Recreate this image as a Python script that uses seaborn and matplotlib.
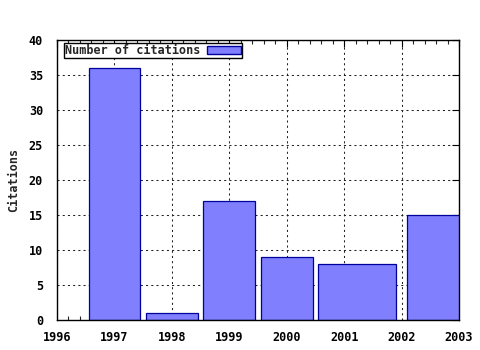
import numpy as np
import pandas as pd
import matplotlib
matplotlib.use("Agg")
import matplotlib.pyplot as plt
import seaborn as sns
from matplotlib.ticker import MultipleLocator
from matplotlib.patches import Patch

years = [1997, 1998, 1999, 2000, 2001, 2003]
citations = [36, 1, 17, 9, 8, 15]
series_name = "Number of citations"
x_ticks = [1996, 1997, 1998, 1999, 2000, 2001, 2002, 2003]
y_ticks = [0, 5, 10, 15, 20, 25, 30, 35, 40]

sns.set_style("white")
plt.rcParams['font.family'] = ['DejaVu Sans Mono']
plt.rcParams['font.weight'] = 'bold'

df = pd.DataFrame({"year": years, "citations": citations})

# gnuplot-style box widths: 0.9 of the half-gap to each neighbour
xs = np.array(years, dtype=float)
gaps = np.diff(xs)
left_gap = np.concatenate([[gaps[0]], gaps])
right_gap = np.concatenate([gaps, [gaps[-1]]])
left_half = 0.45 * np.minimum(left_gap, 2)
right_half = 0.45 * np.minimum(right_gap, 2)
lefts = xs - left_half
widths = left_half + right_half

fig = plt.figure(figsize=(4.8, 3.5), dpi=100)
ax = fig.add_axes([57/480, 1-320/350, (459-57)/480, (320-40)/350])

ax.bar(lefts, df["citations"], width=widths, align="edge",
       color="#8080ff", edgecolor="#00009c", linewidth=0.9, zorder=3)

ax.set_xlim(x_ticks[0], x_ticks[-1])
ax.set_ylim(y_ticks[0], y_ticks[-1])
ax.set_xticks(x_ticks)
ax.set_yticks(y_ticks)
ax.xaxis.set_minor_locator(MultipleLocator(0.2))
ax.tick_params(axis="both", which="major", direction="in", length=5, width=0.8,
               top=True, right=True, labelsize=8.5, colors="black")
ax.tick_params(axis="x", which="major", pad=8)
ax.tick_params(axis="y", which="major", pad=10)
ax.tick_params(axis="x", which="minor", direction="in", length=3, width=0.8,
               top=True, bottom=True)
for lab in ax.get_xticklabels() + ax.get_yticklabels():
    lab.set_fontweight("bold")

ax.grid(True, which="major", color="#222222", linestyle=(0, (2, 3)), linewidth=0.75, zorder=1)
for s in ax.spines.values():
    s.set_visible(True)
    s.set_color("black")
    s.set_linewidth(1.0)
    s.set_zorder(4)

ax.set_ylabel("Citations", fontsize=8.5, fontweight="bold", labelpad=6)
ax.set_xlabel("")

handle = Patch(facecolor="#8080ff", edgecolor="#00009c", linewidth=1.0)
leg = ax.legend([handle], [series_name], loc="upper left", bbox_to_anchor=(0.017, 0.99),
                frameon=True, fancybox=False, framealpha=1, edgecolor="black",
                markerfirst=False, handlelength=2.8, handleheight=0.7,
                borderpad=0.1, handletextpad=0.6, borderaxespad=0,
                prop={"family": "DejaVu Sans Mono", "weight": "bold", "size": 8.5})
leg.get_frame().set_linewidth(1.0)
leg.set_zorder(5)

fig.savefig("out.png", dpi=100)
